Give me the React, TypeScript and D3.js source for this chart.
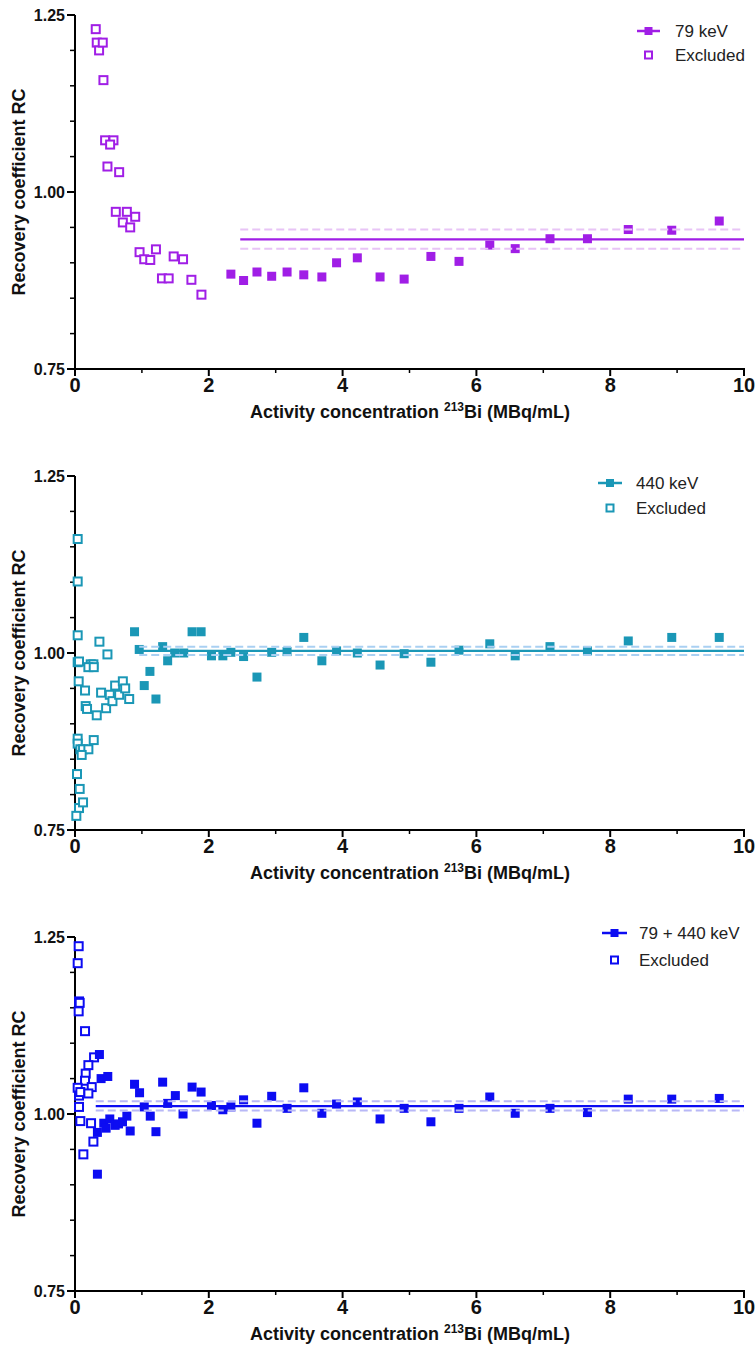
import React from "react";
import * as d3 from "d3";

const width = 755;
const height = 1353;

const xTicks = [0, 2, 4, 6, 8, 10];
const xMinorTicks = [1, 3, 5, 7, 9];
const yTicks = [0.75, 1.0, 1.25];
const yTickLabels = ["0.75", "1.00", "1.25"];
const yMinorTicks = [0.8, 0.85, 0.9, 0.95, 1.05, 1.1, 1.15, 1.2];

// 79 keV
const p1ExclX = [0.31, 0.325, 0.36, 0.415, 0.425, 0.45, 0.575, 0.525, 0.485, 0.66, 0.61, 0.775, 0.715, 0.9, 0.825, 0.965, 1.21, 1.035, 1.125, 1.3, 1.4, 1.475, 1.615, 1.74, 1.89];
const p1ExclY = [1.23, 1.211, 1.2, 1.211, 1.158, 1.073, 1.073, 1.067, 1.036, 1.028, 0.972, 0.972, 0.957, 0.965, 0.95, 0.915, 0.919, 0.905, 0.904, 0.878, 0.878, 0.909, 0.905, 0.876, 0.855];
const p1X = [2.33, 2.52, 2.72, 2.94, 3.17, 3.42, 3.69, 3.91, 4.22, 4.56, 4.92, 5.32, 5.74, 6.2, 6.58, 7.1, 7.66, 8.27, 8.92, 9.63];
const p1Y = [0.884, 0.875, 0.887, 0.881, 0.887, 0.883, 0.88, 0.9, 0.907, 0.88, 0.877, 0.909, 0.902, 0.925, 0.92, 0.934, 0.934, 0.947, 0.946, 0.959];
const p1Fit = { start: 2.47, mean: 0.933, lo: 0.92, hi: 0.947 };

// 440 keV
const p2ExclX = [0.04, 0.04, 0.04, 0.04, 0.06, 0.235, 0.275, 0.2, 0.28, 0.365, 0.485, 0.055, 0.15, 0.16, 0.18, 0.325, 0.39, 0.465, 0.52, 0.56, 0.6, 0.66, 0.715, 0.75, 0.81, 0.04, 0.04, 0.08, 0.12, 0.2, 0.1, 0.28, 0.03, 0.07, 0.06, 0.12, 0.02];
const p2ExclY = [1.161, 1.101, 1.025, 0.987, 0.988, 0.984, 0.984, 0.98, 0.98, 1.016, 0.998, 0.96, 0.947, 0.925, 0.921, 0.912, 0.944, 0.922, 0.941, 0.932, 0.954, 0.941, 0.96, 0.95, 0.935, 0.879, 0.872, 0.864, 0.864, 0.864, 0.856, 0.877, 0.829, 0.808, 0.781, 0.789, 0.77];
const p2X = [0.89, 0.96, 1.035, 1.12, 1.21, 1.31, 1.385, 1.49, 1.625, 1.75, 1.885, 2.04, 2.21, 2.33, 2.52, 2.72, 2.94, 3.17, 3.42, 3.69, 3.91, 4.22, 4.56, 4.92, 5.32, 5.74, 6.2, 6.58, 7.1, 7.66, 8.27, 8.92, 9.63];
const p2Y = [1.03, 1.005, 0.954, 0.974, 0.935, 1.009, 0.989, 1.0, 1.0, 1.03, 1.03, 0.996, 0.996, 1.001, 0.995, 0.966, 1.001, 1.002, 1.022, 0.989, 1.003, 1.0, 0.983, 0.999, 0.987, 1.004, 1.013, 0.996, 1.009, 1.003, 1.017, 1.022, 1.022];
const p2Fit = { start: 0.96, mean: 1.003, lo: 0.997, hi: 1.009 };

// 79 + 440 keV
const p3ExclX = [0.055, 0.04, 0.06, 0.07, 0.055, 0.15, 0.285, 0.2, 0.16, 0.15, 0.25, 0.04, 0.06, 0.08, 0.2, 0.06, 0.08, 0.24, 0.275, 0.125];
const p3ExclY = [1.237, 1.213, 1.159, 1.157, 1.145, 1.117, 1.08, 1.069, 1.057, 1.047, 1.038, 1.037, 1.026, 1.031, 1.029, 1.01, 0.99, 0.987, 0.961, 0.943];
const p3X = [0.335, 0.335, 0.365, 0.39, 0.43, 0.465, 0.49, 0.52, 0.6, 0.65, 0.71, 0.775, 0.825, 0.89, 0.965, 1.035, 1.125, 1.21, 1.31, 1.385, 1.5, 1.615, 1.75, 1.885, 2.04, 2.21, 2.33, 2.52, 2.72, 2.94, 3.17, 3.42, 3.69, 3.91, 4.22, 4.56, 4.92, 5.32, 5.74, 6.2, 6.58, 7.1, 7.66, 8.27, 8.92, 9.63];
const p3Y = [0.974, 0.915, 1.084, 1.05, 0.987, 0.98, 1.053, 0.993, 0.984, 0.986, 0.989, 0.997, 0.976, 1.042, 1.03, 1.01, 0.997, 0.975, 1.045, 1.015, 1.026, 1.0, 1.038, 1.031, 1.012, 1.006, 1.01, 1.02, 0.987, 1.025, 1.008, 1.037, 1.001, 1.014, 1.017, 0.993, 1.008, 0.989, 1.008, 1.024, 1.001, 1.008, 1.002, 1.021, 1.021, 1.022];
const p3Fit = { start: 0.31, mean: 1.011, lo: 1.005, hi: 1.018 };

const panels = [
  { top: 15, label: "79 keV", color: "#a01ee6", light: "#e8c4f6", exclX: p1ExclX, exclY: p1ExclY, xs: p1X, ys: p1Y, fit: p1Fit,
    leg: { l0: 637, l1: 660, text: 675, y1: 31, y2: 55 } },
  { top: 476, label: "440 keV", color: "#1a97b6", light: "#a9d0f2", exclX: p2ExclX, exclY: p2ExclY, xs: p2X, ys: p2Y, fit: p2Fit,
    leg: { l0: 598, l1: 622, text: 636, y1: 483, y2: 508 } },
  { top: 937, label: "79 + 440 keV", color: "#0c0cf2", light: "#b8b8f6", exclX: p3ExclX, exclY: p3ExclY, xs: p3X, ys: p3Y, fit: p3Fit,
    leg: { l0: 602, l1: 627, text: 639, y1: 933, y2: 960 } },
];

const plotH = 354;
const font = "'Liberation Sans', Arial, sans-serif";

const Panel = ({ p }) => {
  const x = d3.scaleLinear().domain([0, 10]).range([75, 744]);
  const y = d3.scaleLinear().domain([0.75, 1.25]).range([p.top + plotH, p.top]);
  const y0 = p.top + plotH;
  const s = 9;
  const h = 8;
  return (
    <g>
      {/* axes */}
      <line x1={75} x2={75} y1={p.top} y2={y0} stroke="#000" strokeWidth={2} />
      <line x1={74} x2={745} y1={y0} y2={y0} stroke="#000" strokeWidth={2} />
      {yTicks.map((t, i) => (
        <g key={"yt" + i}>
          <line x1={67} x2={75} y1={y(t)} y2={y(t)} stroke="#000" strokeWidth={2} />
          <text x={65} y={y(t)} textAnchor="end" dominantBaseline="central" fontSize={16} fontWeight="bold" fill="#111">
            {yTickLabels[i]}
          </text>
        </g>
      ))}
      {yMinorTicks.map((t) => (
        <line key={"ym" + t} x1={70} x2={75} y1={y(t)} y2={y(t)} stroke="#000" strokeWidth={1.5} />
      ))}
      {xTicks.map((t) => (
        <g key={"xt" + t}>
          <line x1={x(t)} x2={x(t)} y1={y0} y2={y0 + 7} stroke="#000" strokeWidth={2} />
          <text x={x(t)} y={y0 + 23} textAnchor="middle" fontSize={20} fontWeight="bold" fill="#111">
            {t}
          </text>
        </g>
      ))}
      {xMinorTicks.map((t) => (
        <line key={"xm" + t} x1={x(t)} x2={x(t)} y1={y0} y2={y0 + 4} stroke="#000" strokeWidth={1.5} />
      ))}
      <text
        transform={`translate(19,${p.top + plotH / 2}) rotate(-90)`}
        textAnchor="middle"
        dominantBaseline="central"
        fontSize={18}
        fontWeight="bold"
        fill="#111"
      >
        Recovery coefficient RC
      </text>
      <text x={410} y={y0 + 49} textAnchor="middle" fontSize={18} fontWeight="bold" fill="#111">
        Activity concentration <tspan dy={-7} fontSize={12}>213</tspan>
        <tspan dy={7}>Bi (MBq/mL)</tspan>
      </text>

      {/* excluded points */}
      {p.exclX.map((v, i) => (
        <rect key={"e" + i} x={x(v) - h / 2} y={y(p.exclY[i]) - h / 2} width={h} height={h}
          fill="#fff" stroke={p.color} strokeWidth={2} />
      ))}
      {/* included points */}
      {p.xs.map((v, i) => (
        <rect key={"f" + i} x={x(v) - s / 2} y={y(p.ys[i]) - s / 2} width={s} height={s} fill={p.color} />
      ))}
      {/* mean and CI */}
      <line x1={x(p.fit.start)} x2={x(10)} y1={y(p.fit.mean)} y2={y(p.fit.mean)} stroke={p.color} strokeWidth={2.2} />
      {[p.fit.lo, p.fit.hi].map((v, i) => (
        <line key={"ci" + i} x1={x(p.fit.start)} x2={x(10)} y1={y(v)} y2={y(v)}
          stroke={p.light} strokeWidth={2} strokeDasharray="8,4" />
      ))}

      {/* legend */}
      <line x1={p.leg.l0} x2={p.leg.l1} y1={p.leg.y1} y2={p.leg.y1} stroke={p.color} strokeWidth={2.5} />
      <rect x={(p.leg.l0 + p.leg.l1) / 2 - 4} y={p.leg.y1 - 4} width={8} height={8} fill={p.color} />
      <text x={p.leg.text} y={p.leg.y1} dominantBaseline="central" fontSize={17} fill="#222">{p.label}</text>
      <rect x={(p.leg.l0 + p.leg.l1) / 2 - 3.5} y={p.leg.y2 - 3.5} width={7} height={7}
        fill="#fff" stroke={p.color} strokeWidth={2} />
      <text x={p.leg.text} y={p.leg.y2} dominantBaseline="central" fontSize={17} fill="#222">Excluded</text>
    </g>
  );
};

const App = () => {
  return (
    <svg
      width={width}
      height={height}
      viewBox={`0 0 ${width} ${height}`}
      style={{ position: "absolute", left: 0, top: 0, background: "#fff", fontFamily: font }}
    >
      {panels.map((p, i) => (
        <Panel key={i} p={p} />
      ))}
    </svg>
  );
};

export default App;
